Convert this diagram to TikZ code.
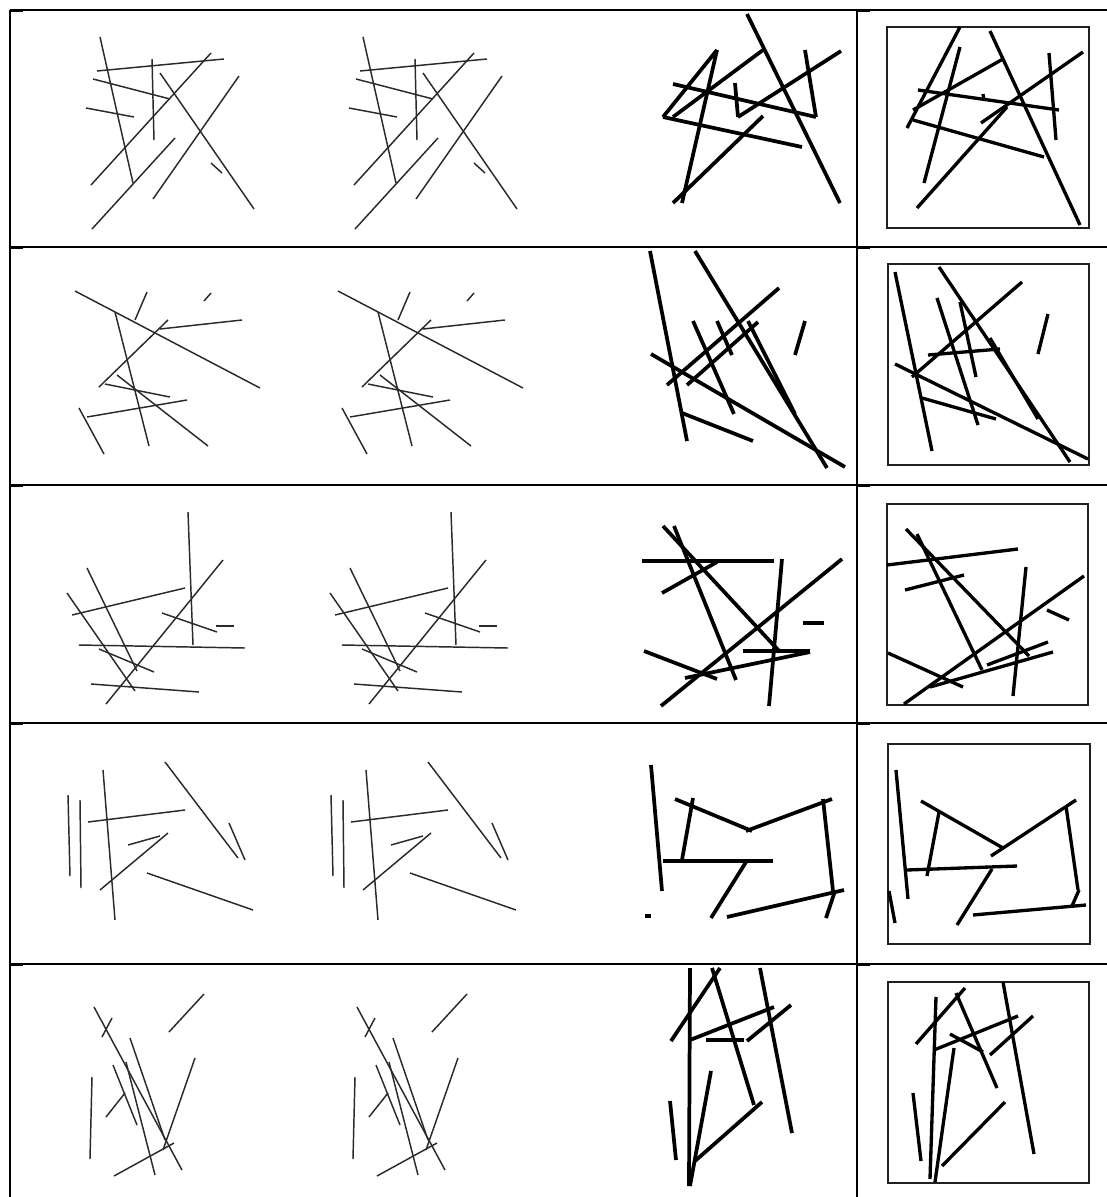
\documentclass[tikz,border=0pt]{standalone}
\usepackage{tikz}
\usepackage{xcolor}
\definecolor{sketchgrey}{HTML}{2A2A2A}
\definecolor{framegrey}{HTML}{202020}
\tikzset{
  gridline/.style ={draw=black, line width=0.8pt},
  stub/.style     ={draw=black, line width=1.6pt},
  sketch/.style   ={draw=sketchgrey, line width=1.1pt},
  boldline/.style ={draw=black, line width=2.8pt},
  boxline/.style  ={draw=black, line width=2.5pt},
  frame/.style    ={draw=framegrey, line width=0.8pt},
}
% col 1 and the same strokes again in col 2
\newcommand{\sketchpair}[1]{%
  \foreach \xa/\ya/\xb/\yb in {#1} {%
    \draw[sketch] (\xa,\ya) -- (\xb,\yb);%
    \draw[sketch] (\xa+263,\ya) -- (\xb+263,\yb);%
  }%
}
\newcommand{\boldrow}[2]{%
  \foreach \xa/\ya/\xb/\yb in {#2} {%
    \draw[#1] (\xa,\ya) -- (\xb,\yb);%
  }%
}

\begin{document}
\begin{tikzpicture}[x=0.75pt,y=-0.75pt]
  \useasboundingbox (0,0) rectangle (1107,1197);

  % ---- table rules --------------------------------------------------------
  \draw[stub] (10,10) -- (10,1197);
  \draw[gridline] (857,10) -- (857,1197);
  \foreach \y in {10,247,485,723,964} {
    \draw[gridline] (10,\y) -- (1107,\y);
    \draw[stub] (10,\y+1) -- (23,\y+1);
    \draw[stub] (857,\y+1) -- (870,\y+1);
  }

  % frames in the last column
  \draw[frame] (887,27) rectangle (1089,228);
  \draw[frame] (888,264) rectangle (1089,465);
  \draw[frame] (887,504) rectangle (1088,705);
  \draw[frame] (888,744) rectangle (1090,944);
  \draw[frame] (888,982) rectangle (1089,1183);

  % ---- row 1 --------------------------------------------------------------
  \sketchpair{100/37/133/183, 97/71/224/59, 93/79/170/99, 152/59/154/140,
    86/108/134/117, 91/185/211/53, 160/73/254/209, 92/229/175/138,
    153/199/239/76, 211/163/222/173}
  \boldrow{boldline}{747/14/840/203, 717/50/682/203, 717/50/663/117,
    663/117/802/147, 673/84/816/117, 816/117/805/50, 673/117/763/50,
    735/83/738/117, 738/117/841/51, 673/203/763/116}
  \boldrow{boxline}{960/27/907/128, 990/31/1080/225, 960/47/924/183,
    918/90/1059/110, 913/120/1044/157, 913/110/1003/59, 1049/53/1056/140,
    981/123/1083/52, 917/208/1007/107, 983/94/984/100}

  % ---- row 2 --------------------------------------------------------------
  \sketchpair{75/291/260/388, 115/312/149/446, 147/292/135/320,
    211/293/204/301, 168/320/99/387, 160/329/242/320, 117/375/208/446,
    105/384/170/397, 87/417/187/400, 79/408/104/454}
  \boldrow{boldline}{650/251/687/441, 695/251/827/468, 651/354/845/467,
    667/385/779/288, 687/385/758/322, 693/321/734/414, 717/321/732/355,
    748/321/795/414, 805/321/795/355, 682/413/753/441}
  \boldrow{boxline}{895/272/932/451, 939/267/1070/462, 895/364/1088/459,
    912/377/1022/282, 937/298/978/425, 960/302/976/377, 928/355/1000/349,
    990/338/1038/419, 1048/314/1038/354, 922/398/996/419}

  % ---- row 3 --------------------------------------------------------------
  \sketchpair{188/512/193/645, 223/560/106/704, 67/593/135/691,
    87/568/137/671, 72/615/185/588, 79/645/245/648, 162/613/217/632,
    216/626/234/626, 99/649/154/672, 91/684/199/692}
  \boldrow{boldline}{642/561/774/561, 663/526/780/652, 674/526/736/680,
    662/593/717/562, 782/559/769/706, 842/559/661/706, 803/623/824/623,
    644/651/717/679, 743/651/810/651, 685/678/810/652}
  \boldrow{boxline}{887/565/1018/549, 906/529/1029/656, 917/534/982/670,
    905/590/964/575, 1026/567/1013/696, 1084/576/904/704, 1047/610/1069/620,
    888/653/963/687, 987/665/1048/642, 930/687/1053/652}

  % ---- row 4 --------------------------------------------------------------
  \sketchpair{68/795/70/876, 80/800/81/888, 103/770/115/920,
    88/822/185/810, 165/762/238/858, 229/823/245/860, 128/845/160/836,
    100/890/168/833, 147/873/253/910}
  \boldrow{boldline}{651/765/662/891, 675/799/752/831, 746/831/832/799,
    693/798/682/860, 663/861/773/861, 746/862/711/918, 823/799/833/891,
    727/917/844/890, 835/891/826/918, 645/916/651/916}
  \boldrow{boxline}{896/770/908/899, 921/801/1003/848, 991/856/1076/800,
    939/812/927/876, 907/870/1017/866, 992/869/957/925, 1066/806/1078/890,
    973/915/1086/905, 1079/890/1072/906, 889/891/895/923}

  % ---- row 5 --------------------------------------------------------------
  \sketchpair{94/1007/182/1170, 112/1018/102/1037, 204/994/169/1032,
    130/1038/165/1140, 195/1058/163/1150, 126/1062/155/1175,
    113/1065/137/1125, 92/1077/90/1159, 125/1093/106/1117,
    114/1176/174/1143}
  \boldrow{boldline}{690/968/689/1186, 720/968/671/1041, 712/968/754/1105,
    760/968/792/1133, 690/1040/774/1007, 706/1040/744/1040,
    747/1041/791/1005, 711/1071/690/1186, 762/1102/695/1161,
    670/1101/676/1160}
  \boldrow{boxline}{1003/982/1034/1154, 936/997/930/1179, 965/988/916/1044,
    956/993/997/1088, 934/1050/1018/1016, 950/1034/983/1052,
    990/1055/1033/1016, 954/1048/935/1182, 1005/1102/942/1166,
    913/1093/921/1161}
\end{tikzpicture}
\end{document}
